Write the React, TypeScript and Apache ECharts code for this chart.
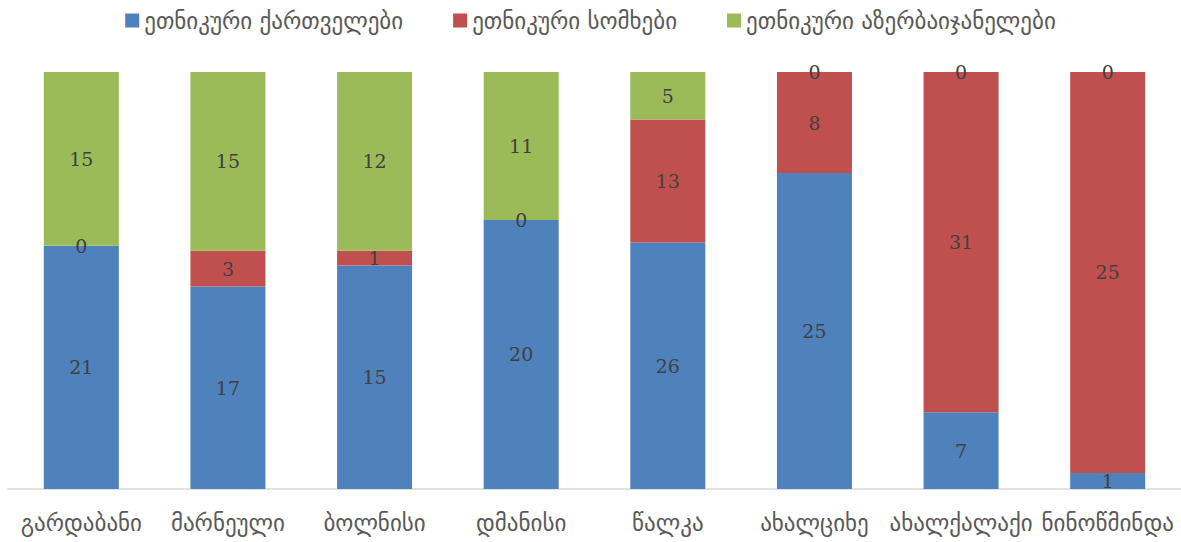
import React, { useEffect, useRef } from "react";
import * as echarts from "echarts";

const categories = ["გარდაბანი", "მარნეული", "ბოლნისი", "დმანისი", "წალკა", "ახალციხე", "ახალქალაქი", "ნინოწმინდა"];
const seriesNames = ["ეთნიკური ქართველები", "ეთნიკური სომხები", "ეთნიკური აზერბაიჯანელები"];
const georgians = [21, 17, 15, 20, 26, 25, 7, 1];
const armenians = [0, 3, 1, 0, 13, 8, 31, 25];
const azerbaijanis = [15, 15, 12, 11, 5, 0, 0, 0];
const colors = ["#4F81BD", "#C0504D", "#9BBB59"];

export default function App() {
  const ref = useRef<HTMLDivElement>(null);
  useEffect(() => {
    const chart = echarts.init(ref.current!, null, { renderer: "svg" });
    const raw = [georgians, armenians, azerbaijanis];
    const totals = categories.map((_, i) => raw.reduce((s, arr) => s + arr[i], 0));
    const series = raw.map((arr, k) => ({
      name: seriesNames[k],
      type: "bar",
      stack: "total",
      barWidth: 75,
      itemStyle: { color: colors[k] },
      label: {
        show: true,
        position: "inside",
        color: "#404040",
        fontFamily: "'DejaVu Serif', serif",
        fontSize: 19,
        formatter: (p: any) => String(p.data.raw),
      },
      data: arr.map((v, i) => ({ value: (v / totals[i]) * 100, raw: v })),
    }));
    chart.setOption({
      animation: false,
      color: colors,
      legend: {
        top: 4,
        left: "center",
        itemWidth: 14,
        itemHeight: 14,
        itemGap: 50,
        icon: "rect",
        textStyle: { fontFamily: "'DejaVu Sans', sans-serif", fontSize: 23, color: "#595959" },
        data: seriesNames,
      },
      grid: { left: 8, right: 0, top: 72, bottom: 53 },
      xAxis: {
        type: "category",
        data: categories,
        axisLine: { lineStyle: { color: "#D9D9D9", width: 1.5 } },
        axisTick: { show: false },
        axisLabel: {
          margin: 22,
          color: "#595959",
          fontFamily: "'DejaVu Sans', sans-serif",
          fontSize: 23,
          interval: 0,
        },
      },
      yAxis: { type: "value", min: 0, max: 100, show: false, splitLine: { show: false } },
      series,
    });
    return () => chart.dispose();
  }, []);
  return <div ref={ref} style={{ position: "absolute", left: 0, top: 0, width: 1181, height: 542 }} />;
}
